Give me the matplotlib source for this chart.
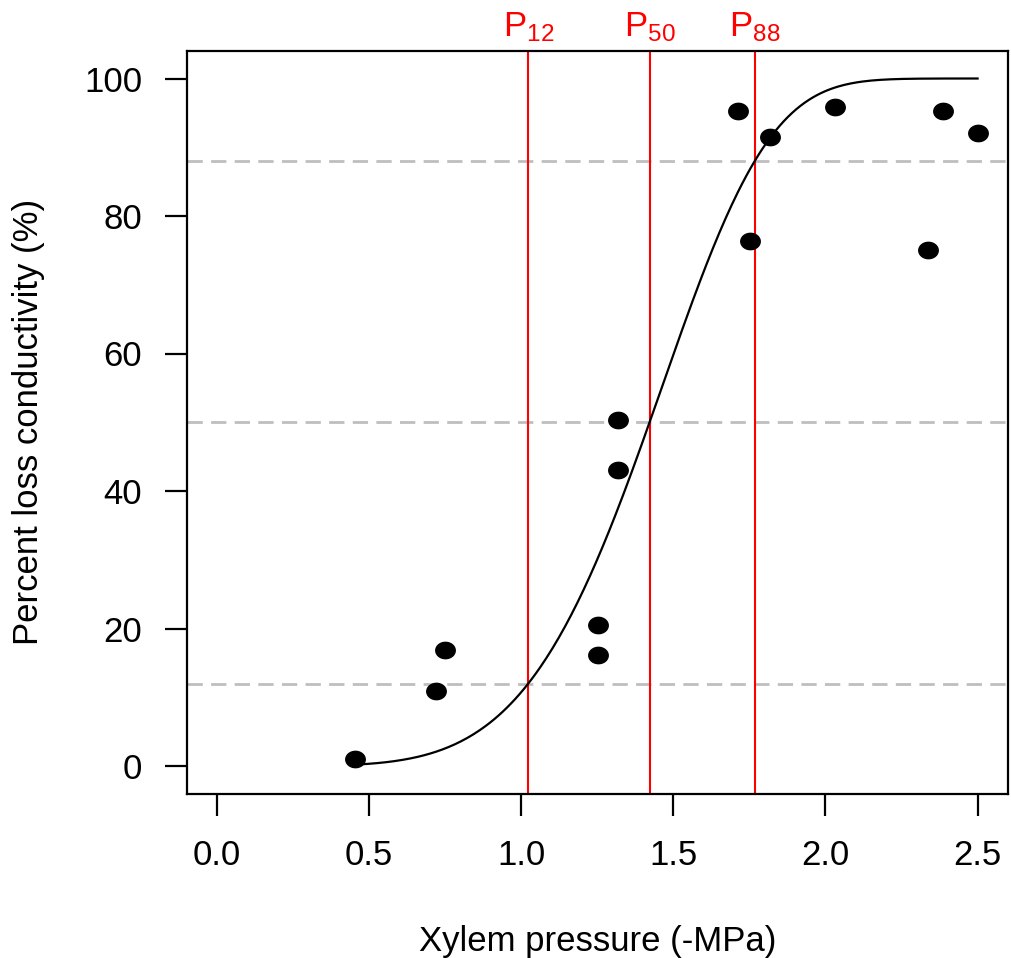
import numpy as np
import matplotlib
matplotlib.use("Agg")
import matplotlib.pyplot as plt
from matplotlib.path import Path

plt.rcParams['font.family'] = ['Liberation Sans', 'DejaVu Sans']
plt.rcParams['mathtext.fontset'] = 'custom'
plt.rcParams['mathtext.rm'] = 'Liberation Sans'
plt.rcParams['mathtext.it'] = 'Liberation Sans'
plt.rcParams['lines.scale_dashes'] = False

# measured data
pressure = [0.453, 0.719, 0.751, 1.252, 1.252, 1.318, 1.318, 1.711,
            1.753, 1.818, 2.032, 2.337, 2.386, 2.50]
plc = [1.0, 10.9, 16.9, 20.5, 16.1, 50.3, 43.0, 95.3,
       76.3, 91.5, 95.9, 75.0, 95.3, 92.1]

# fitted Weibull curve, given by the pressures at 12, 50 and 88 % loss
P12, P50, P88 = 1.023, 1.422, 1.767
c = np.log(np.log(0.12) / np.log(0.88)) / np.log(P88 / P12)
b = P50 / np.log(2) ** (1 / c)
xs = np.linspace(min(pressure), max(pressure), 300)
ys = 100 * (1 - np.exp(-(xs / b) ** c))

fs = 25

fig = plt.figure(figsize=(10.11, 9.58), dpi=100)
ax = fig.add_axes([186.5 / 1011, 1 - 793.5 / 958, (1008 - 186.5) / 1011, (793.5 - 51) / 958])

for h in [12, 50, 88]:
    ax.axhline(h, color='#BEBEBE', lw=2, dashes=(11, 6), zorder=1)

for p, lab in [(P12, '12'), (P50, '50'), (P88, '88')]:
    ax.axvline(p, color='red', lw=1.5, zorder=2)
    ax.annotate('P$_{' + lab + '}$', xy=(p, 1.0), xycoords=('data', 'axes fraction'),
                xytext=(0, 5), textcoords='offset points', ha='center', va='bottom',
                color='red', fontsize=fs, annotation_clip=False)

ax.plot(xs, ys, color='black', lw=1.6, zorder=3)

t = np.linspace(0, 2 * np.pi, 60)
ell = Path(np.column_stack([np.cos(t), 0.84 * np.sin(t)]), closed=True)
ax.plot(pressure, plc, linestyle='none', marker=ell, ms=14, color='black', zorder=4)

ax.set_xlim(-0.1, 2.6)
ax.set_ylim(-4, 104)
ax.set_xticks([0.0, 0.5, 1.0, 1.5, 2.0, 2.5])
ax.set_xticklabels(['0.0', '0.5', '1.0', '1.5', '2.0', '2.5'])
ax.set_yticks([0, 20, 40, 60, 80, 100])
ax.tick_params(length=16, width=1.6, labelsize=fs, direction='out')
ax.tick_params(axis='x', pad=17)
ax.tick_params(axis='y', pad=16)
for s in ax.spines.values():
    s.set_linewidth(1.6)

ax.set_xlabel('Xylem pressure (-MPa)', fontsize=fs, labelpad=38)
ax.set_ylabel('Percent loss conductivity (%)', fontsize=fs, labelpad=28)

fig.savefig('out.png', dpi=100)
